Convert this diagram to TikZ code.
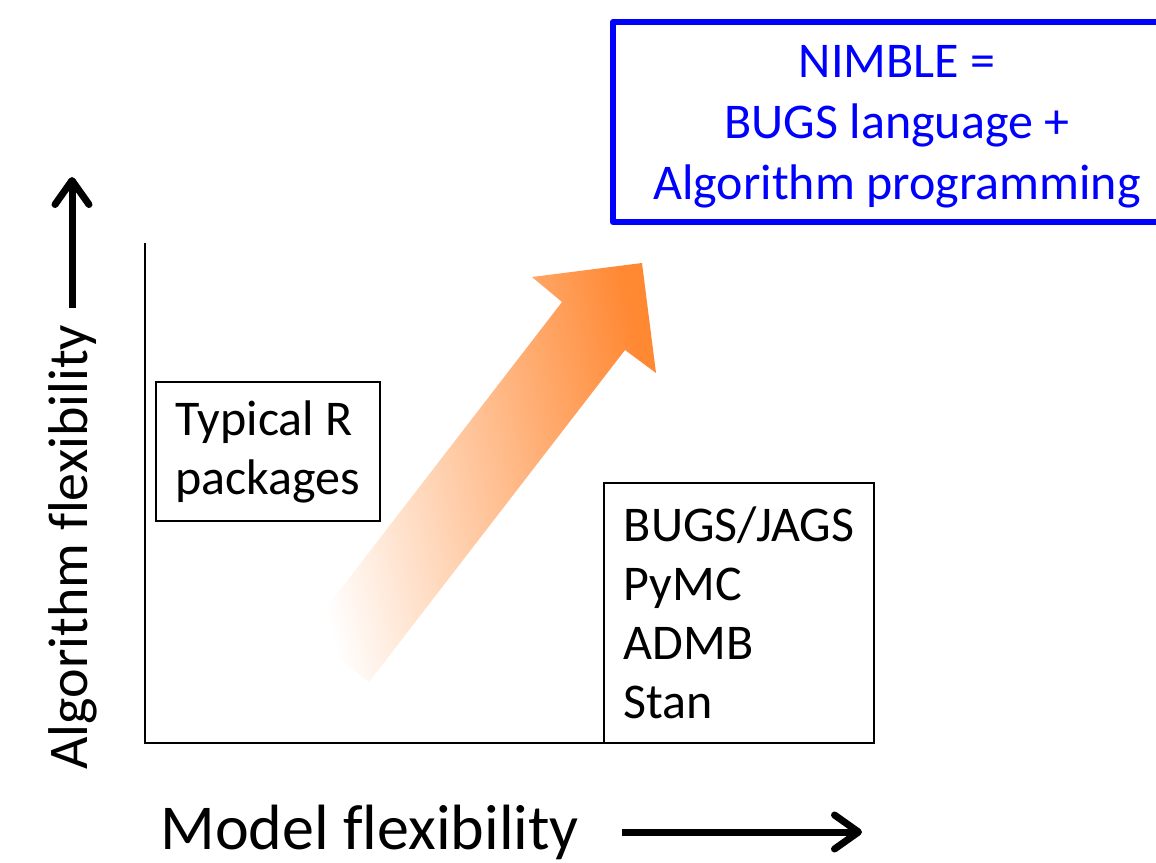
\documentclass[tikz,border=0pt]{standalone}
\usepackage{fontspec}
\setmainfont{Carlito}[Ligatures={NoCommon}]
\usetikzlibrary{arrows.meta,positioning}
\definecolor{nimbleblue}{RGB}{0,0,255}
\definecolor{arroworange}{RGB}{255,136,51}

\begin{document}
\begin{tikzpicture}[x=0.5pt,y=-0.5pt,
    pkgbox/.style={draw,line width=1pt,align=left,inner sep=0pt,font=\fontsize{25}{29.5}\selectfont},
    nimbletext/.style={text=nimbleblue,align=center,inner sep=0pt,font=\fontsize{25}{30.5}\selectfont},
    nimbleframe/.style={draw=nimbleblue,line width=3pt,line join=round},
    axislabel/.style={inner sep=0pt,font=\fontsize{32}{38}\selectfont},
    axisline/.style={line width=1pt},
    bigarrow/.style={line width=3.5pt,-{Straight Barb[round,length=12pt,width=17pt]}}]
    \useasboundingbox (0,0) rectangle (1156,862);
    % axes
    \coordinate (origin) at (145,743);
    \coordinate (ytop) at (145,243);
    \coordinate (xend) at (763,743);
    \draw[axisline] (ytop) -- (origin) -- (xend);
    % orange trend arrow
    \coordinate (tip) at (642,263);
    \coordinate (lbarb) at (532,277);
    \coordinate (lnotch) at (562,302);
    \coordinate (ltail) at (306,634);
    \coordinate (rtail) at (369,682);
    \coordinate (rnotch) at (625,350);
    \coordinate (rbarb) at (656,373);
    \shade[left color=white,middle color=arroworange!34,right color=arroworange,shading angle=102]
        (tip) -- (lbarb) -- (lnotch) -- (ltail) -- (rtail) -- (rnotch) -- (rbarb) -- cycle;
    % boxes
    \node[pkgbox,minimum width=112pt,minimum height=69.5pt,anchor=north west] (rpkg) at (155,381) {Typical R\\packages};
    \node[pkgbox,minimum width=135pt,minimum height=130pt,anchor=north west] (bugs) at (603,482) {BUGS/JAGS\\PyMC\\ADMB\\Stan};
    \draw[nimbleframe] (613,22) rectangle (1181,222);
    \node[nimbletext] (nimble) at (897,127) {NIMBLE =\\BUGS language +\\Algorithm programming};
    % axis labels and arrows
    \node[axislabel,rotate=90,anchor=base west,font=\fontsize{28}{34}\selectfont] (ylabel) at (87,770) {Algorithm flexibility};
    \node[axislabel,anchor=base west] (xlabel) at (160,849) {Model flexibility};
    \coordinate (yfoot) at (72,308);
    \coordinate (yhead) at (72,177);
    \coordinate (xfoot) at (622,832);
    \coordinate (xhead) at (862,832);
    \draw[bigarrow] (yfoot) -- (yhead);
    \draw[bigarrow] (xfoot) -- (xhead);
\end{tikzpicture}
\end{document}
